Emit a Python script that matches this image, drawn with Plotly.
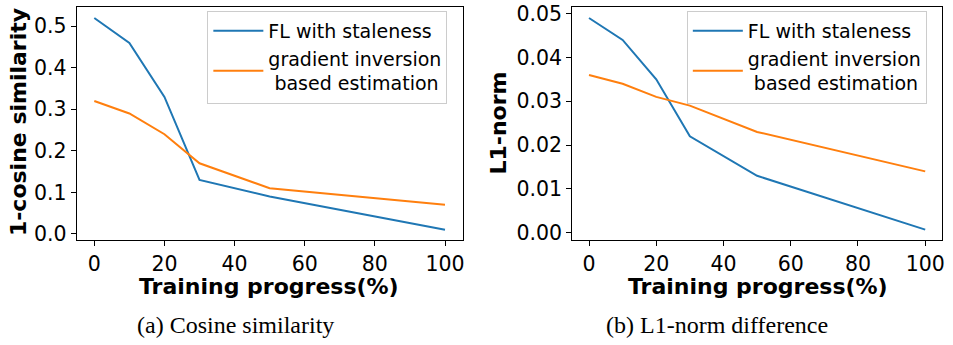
import plotly.graph_objects as go

# ---- data ----
progress = [0, 10, 20, 30, 50, 100]
cos_fl = [0.52, 0.46, 0.33, 0.13, 0.09, 0.01]
cos_gi = [0.32, 0.29, 0.24, 0.17, 0.11, 0.07]
l1_fl = [0.049, 0.044, 0.035, 0.022, 0.013, 0.0007]
l1_gi = [0.036, 0.034, 0.031, 0.029, 0.023, 0.014]
x_ticks = [0, 20, 40, 60, 80, 100]
cos_ticks = [0.0, 0.1, 0.2, 0.3, 0.4, 0.5]
l1_ticks = [0.00, 0.01, 0.02, 0.03, 0.04, 0.05]
name_fl = "FL with staleness"
name_gi = "gradient inversion<br>\u00a0based estimation"
x_title = "Training progress(%)"
y_titles = ["1-cosine similarity", "L1-norm"]
captions = ["(a) Cosine similarity", "(b) L1-norm difference"]

BLUE = "#1f77b4"
ORANGE = "#ff7f0e"
W, H = 953, 345


def pad(vals, frac=0.05):
    lo, hi = min(vals), max(vals)
    d = (hi - lo) * frac
    return [lo - d, hi + d]


fig = go.Figure()
fig.add_trace(go.Scatter(x=progress, y=cos_fl, mode="lines", name=name_fl,
                         line=dict(color=BLUE, width=2), xaxis="x", yaxis="y", legend="legend"))
fig.add_trace(go.Scatter(x=progress, y=cos_gi, mode="lines", name=name_gi,
                         line=dict(color=ORANGE, width=2), xaxis="x", yaxis="y", legend="legend"))
fig.add_trace(go.Scatter(x=progress, y=l1_fl, mode="lines", name=name_fl,
                         line=dict(color=BLUE, width=2), xaxis="x2", yaxis="y2", legend="legend2"))
fig.add_trace(go.Scatter(x=progress, y=l1_gi, mode="lines", name=name_gi,
                         line=dict(color=ORANGE, width=2), xaxis="x2", yaxis="y2", legend="legend2"))

tickfont = dict(family="DejaVu Sans", size=20.5, color="black")
axis_common = dict(showline=True, mirror=True, linecolor="black", linewidth=1,
                   ticks="outside", ticklen=5, tickwidth=1, tickcolor="black",
                   showgrid=False, zeroline=False, tickfont=tickfont,
                   ticklabeloverflow="allow")

ydom = [1 - 243 / H, 1 - 2.5 / H]
legend_common = dict(yanchor="top", xanchor="left",
                     bgcolor="rgba(255,255,255,0.8)", bordercolor="#cccccc", borderwidth=1,
                     font=dict(family="DejaVu Sans", size=19, color="black"),
                     itemwidth=50, tracegroupgap=0)
fig.update_layout(
    width=W, height=H, margin=dict(l=0, r=0, t=0, b=0),
    paper_bgcolor="white", plot_bgcolor="white",
    xaxis=dict(domain=[77 / W, 464 / W], range=pad(progress), tickvals=x_ticks,
               anchor="y", **axis_common),
    yaxis=dict(domain=ydom, range=pad(cos_fl + cos_gi), tickvals=cos_ticks,
               tickformat=".1f", anchor="x", **axis_common),
    xaxis2=dict(domain=[574 / W, 945 / W], range=pad(progress), tickvals=x_ticks,
                anchor="y2", **axis_common),
    yaxis2=dict(domain=ydom, range=pad(l1_fl + l1_gi), tickvals=l1_ticks,
                tickformat=".2f", anchor="x2", **axis_common),
    legend=dict(x=208 / W, y=1 - 6 / H, **legend_common),
    legend2=dict(x=689 / W, y=1 - 6 / H, **legend_common),
    showlegend=True,
)

title_font = dict(family="DejaVu Sans", size=22, color="black")
annotations = [
    dict(text="<b>%s</b>" % x_title, x=270 / W, y=1 - 291 / H, font=title_font),
    dict(text="<b>%s</b>" % x_title, x=760 / W, y=1 - 291 / H, font=title_font),
    dict(text="<b>%s</b>" % y_titles[0], x=18 / W, y=1 - 121 / H, textangle=-90, font=title_font),
    dict(text="<b>%s</b>" % y_titles[1], x=500 / W, y=1 - 122 / H, textangle=-90, font=title_font),
    dict(text=captions[0], x=236 / W, y=1 - 331 / H,
         font=dict(family="Liberation Serif", size=24, color="black")),
    dict(text=captions[1], x=719 / W, y=1 - 331 / H,
         font=dict(family="Liberation Serif", size=24, color="black")),
]
for a in annotations:
    a.update(xref="paper", yref="paper", showarrow=False, xanchor="center", yanchor="middle")
fig.update_layout(annotations=annotations)

fig.write_html("out.html")
